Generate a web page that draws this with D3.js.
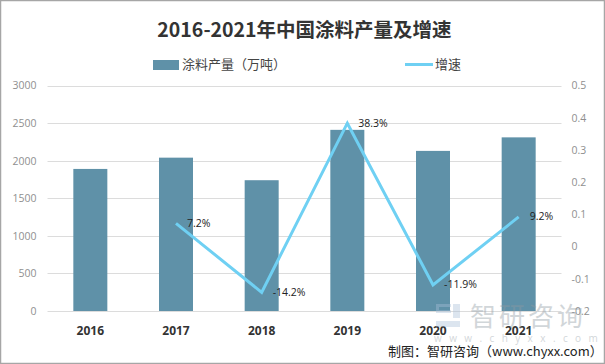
<!DOCTYPE html>
<html>
<head>
<meta charset="utf-8">
<script src="https://cdn.jsdelivr.net/npm/d3@7"></script>
<style>
    html, body { margin: 0; padding: 0; background: #fff; }
    svg { display: block; font-family: "Open Sans", "Noto Sans CJK SC", sans-serif; }
</style>
</head>
<body>
<div id="chart"></div>
<script>
const years = ['2016', '2017', '2018', '2019', '2020', '2021'];
const output = [1890, 2040, 1740, 2410, 2130, 2310];
const growthYears = ['2017', '2018', '2019', '2020', '2021'];
const growth = [0.072, -0.142, 0.383, -0.119, 0.092];
const growthLabels = ['7.2%', '-14.2%', '38.3%', '-11.9%', '9.2%'];
const leftTicks = [0, 500, 1000, 1500, 2000, 2500, 3000];
const rightTicks = [-0.2, -0.1, 0, 0.1, 0.2, 0.3, 0.4, 0.5];

const width = 605, height = 364;
const margin = { top: 85.5, right: 43.5, bottom: 53, left: 47.5 };
const barColor = '#5f91a8', lineColor = '#6fd0f3';

const svg = d3.select('#chart').append('svg')
    .attr('width', width)
    .attr('height', height);

const x = d3.scaleBand().domain(years).range([margin.left, width - margin.right]);
const yLeft = d3.scaleLinear().domain([0, 3000]).range([height - margin.bottom, margin.top]);
const yRight = d3.scaleLinear().domain([-0.2, 0.5]).range([height - margin.bottom, margin.top]);

// grid lines
svg.append('g').selectAll('line')
    .data(leftTicks)
    .join('line')
    .attr('x1', margin.left)
    .attr('x2', width - margin.right)
    .attr('y1', d => Math.round(yLeft(d)) + 0.5)
    .attr('y2', d => Math.round(yLeft(d)) + 0.5)
    .attr('stroke', '#dcdcdc')
    .attr('stroke-width', 1);

// bars
const barWidth = 34;
svg.append('g').selectAll('rect')
    .data(years)
    .join('rect')
    .attr('x', d => x(d) + x.bandwidth() / 2 - barWidth / 2)
    .attr('width', barWidth)
    .attr('y', (d, i) => yLeft(output[i]))
    .attr('height', (d, i) => yLeft(0) - yLeft(output[i]))
    .attr('fill', barColor);

// growth line
const line = d3.line()
    .x((d, i) => x(growthYears[i]) + x.bandwidth() / 2)
    .y(d => yRight(d));

svg.append('path')
    .attr('d', line(growth))
    .attr('fill', 'none')
    .attr('stroke', lineColor)
    .attr('stroke-width', 3)
    .attr('stroke-linejoin', 'miter');

// point labels
svg.append('g').selectAll('text')
    .data(growthLabels)
    .join('text')
    .attr('x', (d, i) => x(growthYears[i]) + x.bandwidth() / 2 + 11)
    .attr('y', (d, i) => yRight(growth[i]) + 3.5)
    .attr('font-size', 10.5)
    .attr('fill', '#222')
    .text(d => d);

// axes, text only
const axisLeft = svg.append('g')
    .attr('transform', `translate(${margin.left}, 0)`)
    .call(d3.axisLeft(yLeft).tickValues(leftTicks).tickSize(0).tickPadding(11).tickFormat(d => d));
const axisRight = svg.append('g')
    .attr('transform', `translate(${width - margin.right}, 0)`)
    .call(d3.axisRight(yRight).tickValues(rightTicks).tickSize(0).tickPadding(10).tickFormat(d => d));
const axisBottom = svg.append('g')
    .attr('transform', `translate(0, ${height - margin.bottom})`)
    .call(d3.axisBottom(x).tickSize(0).tickPadding(15));

[axisLeft, axisRight, axisBottom].forEach(a => a.select('.domain').remove());
[axisLeft, axisRight].forEach(a => a.selectAll('text')
    .attr('font-family', '"Open Sans", sans-serif')
    .attr('font-size', 10.5)
    .attr('fill', '#8f8f8f'));
axisBottom.selectAll('text')
    .attr('font-family', '"Open Sans", sans-serif')
    .attr('font-size', 12)
    .attr('font-weight', 700)
    .attr('fill', '#333');

// title
svg.append('text')
    .attr('x', 304.5)
    .attr('y', 37)
    .attr('text-anchor', 'middle')
    .attr('font-family', '"Noto Sans CJK SC", sans-serif')
    .attr('font-size', 19.5)
    .attr('font-weight', 700)
    .attr('fill', '#333')
    .text('2016-2021年中国涂料产量及增速');

// legend
svg.append('rect')
    .attr('x', 153).attr('y', 60).attr('width', 26).attr('height', 10)
    .attr('fill', barColor);
svg.append('text')
    .attr('x', 182).attr('y', 69)
    .attr('font-family', '"Noto Sans CJK SC", sans-serif')
    .attr('font-size', 13)
    .attr('fill', '#444')
    .text('涂料产量（万吨）');
svg.append('line')
    .attr('x1', 405).attr('x2', 433).attr('y1', 64.5).attr('y2', 64.5)
    .attr('stroke', lineColor).attr('stroke-width', 3);
svg.append('text')
    .attr('x', 435).attr('y', 69)
    .attr('font-family', '"Noto Sans CJK SC", sans-serif')
    .attr('font-size', 13)
    .attr('fill', '#444')
    .text('增速');

// watermark
const mark = svg.append('g').attr('fill', '#8f9aa2').attr('opacity', 0.4);
mark.append('path')
    .attr('d', 'M436 304h15v3h-15z M436 310h15v3h-15z M436 304h3v9h-3z M453 304h7v14h-7z M436 321h24v6h-24z')
    .attr('fill', '#a9c0d8');
mark.append('text')
    .attr('x', 470).attr('y', 326)
    .attr('font-family', '"Noto Sans CJK SC", sans-serif')
    .attr('font-size', 26)
    .attr('letter-spacing', 3)
    .text('智研咨询');
mark.append('text')
    .attr('x', 434).attr('y', 342)
    .attr('font-size', 10)
    .attr('letter-spacing', 7.4)
    .text('www.chyxx.com');

// source line
svg.append('text')
    .attr('x', 388).attr('y', 356)
    .attr('font-family', '"Noto Sans CJK SC", sans-serif')
    .attr('font-size', 13)
    .attr('fill', '#222')
    .text('制图：智研咨询（www.chyxx.com）');

// frame
svg.append('rect')
    .attr('x', 0.5).attr('y', 0.5)
    .attr('width', width - 1).attr('height', height - 1)
    .attr('fill', 'none')
    .attr('stroke', '#a6a6a6')
    .attr('stroke-width', 1.5);
</script>
</body>
</html>
